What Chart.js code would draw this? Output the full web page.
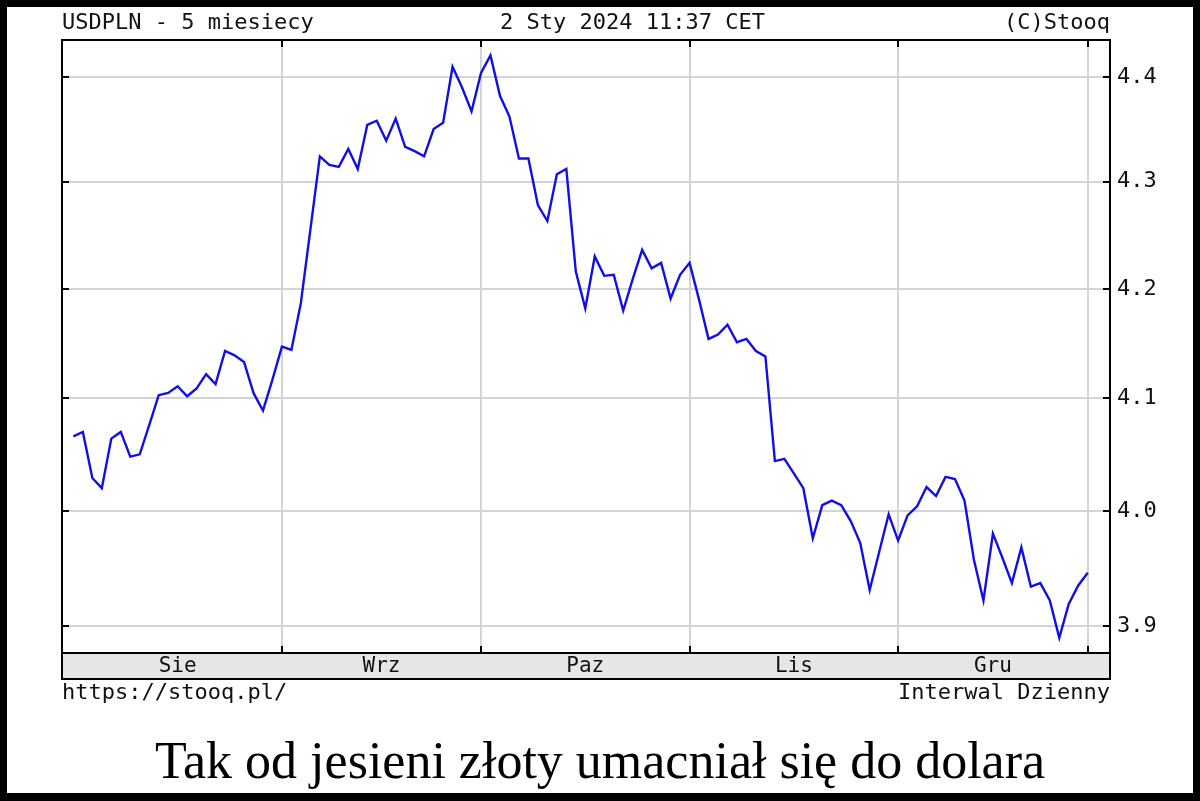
<!DOCTYPE html>
<html lang="pl">
<head>
<meta charset="utf-8">
<title>USDPLN - 5 miesiecy</title>
<script src="https://cdn.jsdelivr.net/npm/chart.js@4.4.1/dist/chart.umd.min.js"></script>
<style>
  html, body { margin: 0; padding: 0; background: #000; }
  #wrap { position: relative; width: 1200px; height: 801px; background: #000; }
  #paper { position: absolute; left: 7px; top: 7px; width: 1186px; height: 786px; background: #fff; }
  #chart { position: absolute; left: 0; top: 0; }
</style>
</head>
<body>
<div id="wrap">
  <div id="paper"></div>
  <canvas id="chart" width="1200" height="801"></canvas>
</div>
<script>
// USDPLN, kurs dzienny, 1 sie 2023 – 2 sty 2024 (odczyt z wykresu stooq)
const usdpln = [
  4.066, 4.070, 4.029, 4.020, 4.064, 4.070, 4.048, 4.050, 4.076, 4.103,
  4.105, 4.111, 4.102, 4.109, 4.122, 4.113, 4.143, 4.139, 4.133, 4.105,
  4.089, 4.117, 4.147, 4.144, 4.187, 4.255, 4.324, 4.316, 4.314, 4.331,
  4.312, 4.354, 4.358, 4.339, 4.360, 4.333, 4.329, 4.324, 4.350, 4.356,
  4.410, 4.390, 4.367, 4.404, 4.421, 4.382, 4.362, 4.322, 4.322, 4.278,
  4.263, 4.307, 4.312, 4.216, 4.182, 4.230, 4.212, 4.213, 4.180, 4.209,
  4.236, 4.219, 4.224, 4.191, 4.213, 4.224, 4.190, 4.154, 4.158, 4.167,
  4.151, 4.154, 4.143, 4.138, 4.044, 4.046, 4.033, 4.020, 3.976, 4.005,
  4.009, 4.005, 3.991, 3.972, 3.931, 3.964, 3.997, 3.974, 3.996, 4.004,
  4.021, 4.013, 4.030, 4.028, 4.009, 3.957, 3.922, 3.980, 3.959, 3.937,
  3.968, 3.934, 3.937, 3.922, 3.890, 3.919, 3.935, 3.946
];
// sesje, od ktorych zaczyna sie miesiac (indeks w usdpln)
const monthStarts = [22, 43, 65, 87, 107];
const monthBounds = [0, 22, 43, 65, 87, 107];
const monthLabels = ['Sie', 'Wrz', 'Paz', 'Lis', 'Gru'];
const yTicks = [3.9, 4.0, 4.1, 4.2, 4.3, 4.4];

const titleLeft = 'USDPLN - 5 miesiecy';
const titleMid = '2 Sty 2024 11:37 CET';
const titleRight = '(C)Stooq';
const footLeft = 'https://stooq.pl/';
const footRight = 'Interwal Dzienny';
const caption = 'Tak od jesieni złoty umacniał się do dolara';

const MONO = '"DejaVu Sans Mono", "Liberation Mono", monospace';

function seg(ctx, x1, y1, x2, y2) {
    ctx.beginPath();
    ctx.moveTo(x1, y1);
    ctx.lineTo(x2, y2);
    ctx.stroke();
}

const stooqFrame = {
    id: 'stooqFrame',
    afterDraw(chart) {
        const ctx = chart.ctx;
        const a = chart.chartArea;
        const x = chart.scales.x, y = chart.scales.y;
        ctx.save();

        // ramka wykresu
        ctx.strokeStyle = '#000';
        ctx.lineWidth = 2;
        ctx.strokeRect(a.left, a.top, a.right - a.left, a.bottom - a.top);

        // kreski podzialki (do srodka)
        yTicks.forEach(v => {
            const py = Math.round(y.getPixelForValue(v));
            seg(ctx, a.left, py, a.left + 7, py);
            seg(ctx, a.right - 7, py, a.right, py);
        });
        monthStarts.forEach(v => {
            const px = Math.round(x.getPixelForValue(v));
            seg(ctx, px, a.top, px, a.top + 7);
            seg(ctx, px, a.bottom - 7, px, a.bottom);
        });

        // pasek z miesiacami
        const stripH = 26;
        ctx.fillStyle = '#e6e6e6';
        ctx.fillRect(a.left, a.bottom, a.right - a.left, stripH);
        ctx.strokeRect(a.left, a.bottom, a.right - a.left, stripH);
        ctx.fillStyle = '#111';
        ctx.font = '21px ' + MONO;
        ctx.textAlign = 'center';
        ctx.textBaseline = 'middle';
        monthLabels.forEach((m, i) => {
            const cx = (x.getPixelForValue(monthBounds[i]) + x.getPixelForValue(monthBounds[i + 1])) / 2;
            ctx.fillText(m, cx, a.bottom + stripH / 2 + 1);
        });

        // naglowek i stopka
        ctx.font = '22px ' + MONO;
        ctx.textAlign = 'left';
        ctx.fillText(titleLeft, a.left, 23);
        ctx.fillText(titleMid, 500, 23);
        ctx.fillText(footLeft, a.left, 693);
        ctx.textAlign = 'right';
        ctx.fillText(titleRight, a.right, 23);
        ctx.fillText(footRight, a.right, 693);

        // podpis
        ctx.fillStyle = '#000';
        ctx.font = '52px "Liberation Serif", "Times New Roman", serif';
        ctx.textAlign = 'center';
        ctx.textBaseline = 'alphabetic';
        ctx.fillText(caption, 600, 778);

        ctx.restore();
    }
};

new Chart(document.getElementById('chart'), {
    type: 'line',
    data: {
        datasets: [{
            label: 'USDPLN',
            data: usdpln.map((v, i) => ({ x: i, y: v })),
            borderColor: '#1010e6',
            borderWidth: 2.4,
            pointRadius: 0,
            tension: 0,
            fill: false
        }]
    },
    options: {
        responsive: false,
        animation: false,
        devicePixelRatio: 1,
        layout: { padding: { left: 62, top: 40, right: 0, bottom: 0 } },
        plugins: { legend: { display: false }, tooltip: { enabled: false } },
        scales: {
            x: {
                type: 'linear',
                min: -1.2,
                max: 109.35,
                afterFit: s => { s.height = 148; },
                afterBuildTicks: s => { s.ticks = monthStarts.map(v => ({ value: v })); },
                ticks: { display: false },
                grid: { color: '#d4d4d4', lineWidth: 2, drawTicks: false },
                border: { display: false }
            },
            y: {
                type: 'logarithmic',
                position: 'right',
                min: 3.877,
                max: 4.436,
                afterFit: s => { s.width = 90; },
                afterBuildTicks: s => { s.ticks = yTicks.map(v => ({ value: v })); },
                ticks: {
                    autoSkip: false,
                    padding: 7,
                    color: '#111',
                    font: { family: MONO, size: 22 },
                    callback: v => Number(v).toFixed(1)
                },
                grid: { color: '#d4d4d4', lineWidth: 2, drawTicks: false },
                border: { display: false }
            }
        }
    },
    plugins: [stooqFrame]
});
</script>
</body>
</html>
